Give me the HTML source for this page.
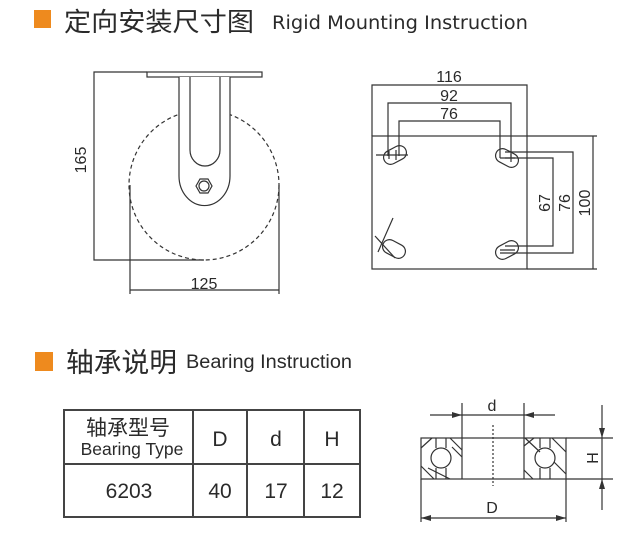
<!DOCTYPE html>
<html><head><meta charset="utf-8"><style>
html,body{margin:0;padding:0;background:#fff;width:638px;height:540px;overflow:hidden}
svg{display:block}
text{font-family:"Liberation Sans","Noto Sans CJK SC",sans-serif;fill:#2a2a2a}
</style></head><body>
<svg width="638" height="540" viewBox="0 0 638 540" xmlns="http://www.w3.org/2000/svg">
<defs>
<marker id="a" markerWidth="10" markerHeight="6" refX="10" refY="3" orient="auto" markerUnits="userSpaceOnUse"><path d="M0,0 L10,3 L0,6 Z" fill="#333"/></marker>
</defs>
<!-- header 1 -->
<rect x="34" y="10" width="17" height="18" fill="#ee8a1e"/>
<text x="64" y="31" font-size="26" fill="#222" textLength="190" lengthAdjust="spacingAndGlyphs">定向安装尺寸图</text>
<text x="272" y="29" font-size="18.5" style="font-family:'DejaVu Sans',sans-serif" fill="#222" textLength="256" lengthAdjust="spacingAndGlyphs">Rigid  Mounting  Instruction</text>

<g stroke="#333" stroke-width="1.2" fill="none">
<!-- caster -->
<circle cx="204" cy="185" r="75" stroke-dasharray="4,3"/>
<rect x="147" y="72" width="115" height="5" fill="#fff"/>
<path d="M179,77 V176 A25,29 0 0 0 230,176 V77" fill="#fff"/>
<path d="M190,77 V150 A15,16 0 0 0 220,150 V77"/>
<polygon points="196,186 200,179 208,179 212,186 208,193 200,193"/>
<circle cx="204" cy="186" r="5"/>
<path d="M147,72 H94 V260 H204"/>
<path d="M130,185 V294 M279,185 V294 M130,290 H279"/>
<!-- plate -->
<rect x="372" y="136" width="155" height="133"/>
<path d="M372,136 V85 H527 V136"/>
<path d="M388,156 V103 H511 V158 M399,156 V121 H500 V158"/>
<path d="M527,136 H597 M527,269 H597 M593,136 V269"/>
<path d="M505,152 H573 V253 H500 M505,158 H553 V246 H505"/>
<g transform="rotate(-28 395 155)"><rect x="383" y="148" width="24" height="14" rx="7"/></g>
<g transform="rotate(28 507 158)"><rect x="495" y="151" width="24" height="14" rx="7"/></g>
<g transform="rotate(28 394 249)"><rect x="382" y="242" width="24" height="14" rx="7"/></g>
<g transform="rotate(-28 507 250)"><rect x="495" y="243" width="24" height="14" rx="7"/></g>
<path d="M376,155 H408 M396,150 V160 M389,151 V159 M500,158 H515 M511,154 V162 M500,250 H515 M393,218 L378,252 M375,236 L395,258"/>
</g>
<text x="449" y="82" font-size="16" text-anchor="middle">116</text>
<text x="449" y="101" font-size="16" text-anchor="middle">92</text>
<text x="449" y="119" font-size="16" text-anchor="middle">76</text>
<text x="204" y="289" font-size="16" text-anchor="middle">125</text>
<text transform="translate(86,160) rotate(-90)" font-size="16" text-anchor="middle">165</text>
<text transform="translate(550,203) rotate(-90)" font-size="16" text-anchor="middle">67</text>
<text transform="translate(570,203) rotate(-90)" font-size="16" text-anchor="middle">76</text>
<text transform="translate(590,203) rotate(-90)" font-size="16" text-anchor="middle">100</text>

<!-- header 2 -->
<rect x="35" y="352" width="18" height="19" fill="#ee8a1e"/>
<text x="66" y="372" font-size="27" fill="#222" textLength="111" lengthAdjust="spacingAndGlyphs">轴承说明</text>
<text x="186" y="368" font-size="19" fill="#222" textLength="166" lengthAdjust="spacingAndGlyphs">Bearing Instruction</text>

<!-- table -->
<g stroke="#444" stroke-width="2" fill="none">
<rect x="64" y="410" width="296" height="107"/>
<path d="M64,464 H360 M193,410 V517 M247,410 V517 M304,410 V517"/>
</g>
<text x="128" y="435" font-size="21" text-anchor="middle">轴承型号</text>
<text x="132" y="455" font-size="17.5" text-anchor="middle">Bearing Type</text>
<text x="220" y="446" font-size="21" text-anchor="middle">D</text>
<text x="276" y="446" font-size="21" text-anchor="middle">d</text>
<text x="332" y="446" font-size="21" text-anchor="middle">H</text>
<text x="129" y="498" font-size="21" text-anchor="middle">6203</text>
<text x="220" y="498" font-size="21" text-anchor="middle">40</text>
<text x="276" y="498" font-size="21" text-anchor="middle">17</text>
<text x="332" y="498" font-size="21" text-anchor="middle">12</text>

<!-- bearing drawing -->
<g stroke="#333" stroke-width="1.2" fill="none">
<rect x="421" y="438" width="145" height="41"/>
<path d="M462,403 V479 M524,403 V479"/>
<path d="M430,415 H462" marker-end="url(#a)"/>
<path d="M555,415 H524" marker-end="url(#a)"/>
<path d="M462,415 H524"/>
<path d="M421,479 V522 M566,479 V522"/>
<path d="M492,518 H421" marker-end="url(#a)"/>
<path d="M492,518 H566" marker-end="url(#a)"/>
<path d="M566,438 H613 M566,479 H613"/>
<path d="M602,405 V438" marker-end="url(#a)"/>
<path d="M602,510 V479" marker-end="url(#a)"/>
<path d="M602,438 V479"/>
<path d="M493,425 V486" stroke-dasharray="2,2"/>
<circle cx="441" cy="458" r="10"/>
<circle cx="545" cy="458" r="10"/>
<path d="M436,438 V448 M446,438 V448 M436,468 V479 M446,468 V479 M540,438 V448 M550,438 V448 M540,468 V479 M550,468 V479"/>
<path d="M421,448 L432,438 M452,447 L462,457 M450,438 L462,450 M421,466 L434,479 M428,468 L450,479 M524,470 L533,479 M525,438 L540,452 M552,438 L566,452 M554,462 L566,474 M524,446 L534,438"/>
</g>
<text x="492" y="411" font-size="16" text-anchor="middle">d</text>
<text x="492" y="513" font-size="16" text-anchor="middle">D</text>
<text transform="translate(598,458) rotate(-90)" font-size="16" text-anchor="middle">H</text>
</svg>
</body></html>
